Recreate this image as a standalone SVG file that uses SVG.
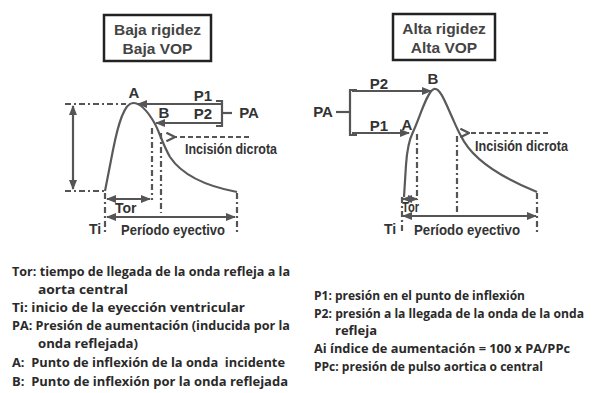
<svg xmlns="http://www.w3.org/2000/svg" width="595" height="393" viewBox="0 0 595 393">
<style>
.bg{fill:#fff}
.box{fill:#fff;stroke:#222;stroke-width:2.5}
.ttl{font-family:"Liberation Sans",Arial,sans-serif;font-weight:bold;font-size:15.5px;fill:#444;text-anchor:middle}
.lbl{font-family:"Liberation Sans",Arial,sans-serif;font-weight:bold;font-size:15px;fill:#333;text-anchor:middle}
.sm{font-family:"Liberation Sans",Arial,sans-serif;font-weight:bold;font-size:14px;fill:#333}
.ln{fill:none;stroke:#555;stroke-width:2.2}
.curve{fill:none;stroke:#5a5a5a;stroke-width:2.2;stroke-linejoin:round}
.dd{fill:none;stroke:#555;stroke-width:2.2;stroke-dasharray:6 3 2 3}
.da{fill:none;stroke:#555;stroke-width:1.8;stroke-dasharray:5 3}
.leg{font-family:"Open Sans","Noto Sans",sans-serif;font-weight:700;font-size:13px;fill:#2a2a2a}
.legs{font-family:"Open Sans","Noto Sans",sans-serif;font-weight:700;font-size:12.5px;fill:#2a2a2a}
</style>
<defs>
<marker id="ah" viewBox="0 0 10 8" refX="9" refY="4" markerWidth="4.6" markerHeight="3.7" orient="auto-start-reverse" markerUnits="strokeWidth">
<path d="M0,0 L10,4 L0,8 Z" fill="#555"/>
</marker>
<marker id="oh" viewBox="0 0 10 10" refX="1" refY="5" markerWidth="6" markerHeight="6" orient="auto-start-reverse" markerUnits="strokeWidth">
<path d="M9,1 L1,5 L9,9" fill="none" stroke="#555" stroke-width="2"/>
</marker>
</defs>
<rect class="bg" x="0" y="0" width="595" height="393"/>

<g id="titulo-baja">
<rect class="box" x="104" y="15" width="107" height="46"/>
<text class="ttl" x="157.5" y="35">Baja rigidez</text>
<text class="ttl" x="157.5" y="54">Baja VOP</text>
</g>
<g id="titulo-alta">
<rect class="box" x="393" y="14" width="102" height="46"/>
<text class="ttl" x="444" y="34">Alta rigidez</text>
<text class="ttl" x="444" y="53">Alta VOP</text>
</g>

<g id="onda-baja">
<path class="curve" d="M105,191 L113,150 C118,125 124,103 133,103 C142,103 150,115 155,124 C159,131 163,145 170,157 C180,172 200,185 237,192"/>
<text class="lbl" x="134" y="98">A</text>
<text class="lbl" x="164" y="118">B</text>
<text class="lbl" x="203" y="101">P1</text>
<text class="lbl" x="203" y="119">P2</text>
<text class="lbl" x="249" y="118">PA</text>
<text class="sm" x="115" y="213">Tor</text>
<text class="sm" x="89" y="234">Ti</text>
<text class="sm" x="121" y="235" textLength="104" lengthAdjust="spacingAndGlyphs">Período eyectivo</text>
<text class="sm" x="185" y="154" textLength="92" lengthAdjust="spacingAndGlyphs">Incisión dicrota</text>
</g>

<g id="onda-alta">
<path class="curve" d="M404,197 L406,165 C407,150 409,140 413,132 C419,120 427,91 434,89 C440,87 446,104 452,117 C456,126 458,131 461,136 C470,155 495,175 537,192"/>
<text class="lbl" x="433" y="84">B</text>
<text class="lbl" x="407" y="130">A</text>
<text class="lbl" x="379" y="89">P2</text>
<text class="lbl" x="379" y="131">P1</text>
<text class="lbl" x="323" y="117">PA</text>
<text class="sm" x="402" y="212" textLength="17" lengthAdjust="spacingAndGlyphs">Tor</text>
<text class="sm" x="384" y="234">Ti</text>
<text class="sm" x="414" y="235" textLength="106" lengthAdjust="spacingAndGlyphs">Período eyectivo</text>
<text class="sm" x="475" y="151" textLength="93" lengthAdjust="spacingAndGlyphs">Incisión dicrota</text>
</g>

<g id="conectores">
<path class="dd" d="M65,104 L126,104"/>
<path class="dd" d="M65,191 L105,191"/>
<path class="ln" d="M73,106 L73,189" marker-start="url(#ah)" marker-end="url(#ah)"/>
<path class="ln" d="M222,104 L138,104" marker-end="url(#ah)"/>
<path class="ln" d="M222,123 L156,123" marker-end="url(#ah)"/>
<path class="ln" d="M216,101 L222,101 L222,126 L216,126"/>
<path class="ln" d="M222,113 L232,113"/>
<path class="dd" d="M152,128 L152,200"/>
<path class="dd" d="M161,133 L161,213"/>
<path class="dd" d="M105,193 L105,234"/>
<path class="dd" d="M237,193 L237,234"/>
<path class="ln" d="M107,199 L150,199" marker-start="url(#ah)" marker-end="url(#ah)"/>
<path class="ln" d="M107,217 L235,217" marker-start="url(#ah)" marker-end="url(#ah)"/>
<path class="da" d="M249,137 L175,137" marker-end="url(#oh)"/>
<path class="ln" d="M336,112 L350,112"/>
<path class="ln" d="M357,90 L350,90 L350,135 L357,135"/>
<path class="ln" d="M352,91 L431,91" marker-end="url(#ah)"/>
<path class="ln" d="M352,133 L409,133" marker-end="url(#ah)"/>
<path class="dd" d="M417,134 L417,200"/>
<path class="dd" d="M457,136 L457,212"/>
<path class="dd" d="M402,197 L402,234"/>
<path class="dd" d="M537,193 L537,234"/>
<path class="ln" d="M403,199 L417,199" marker-start="url(#ah)" marker-end="url(#ah)"/>
<path class="ln" d="M403,216 L536,216" marker-start="url(#ah)" marker-end="url(#ah)"/>
<path class="da" d="M548,133 L469,133" marker-end="url(#oh)"/>
</g>

<g id="leyenda">
<text class="leg" x="12" y="276" textLength="278" lengthAdjust="spacingAndGlyphs">Tor: tiempo de llegada de la onda refleja a la</text>
<text class="leg" x="38" y="294" textLength="90" lengthAdjust="spacingAndGlyphs">aorta central</text>
<text class="leg" x="12" y="312" textLength="233" lengthAdjust="spacingAndGlyphs">Ti: inicio de la eyección ventricular</text>
<text class="leg" x="12" y="330" textLength="278" lengthAdjust="spacingAndGlyphs">PA: Presión de aumentación (inducida por la</text>
<text class="leg" x="38" y="348" textLength="100" lengthAdjust="spacingAndGlyphs">onda reflejada)</text>
<text class="leg" x="12" y="367" textLength="273" lengthAdjust="spacingAndGlyphs" xml:space="preserve">A:  Punto de inflexión de la onda  incidente</text>
<text class="leg" x="12" y="386" textLength="276" lengthAdjust="spacingAndGlyphs" xml:space="preserve">B:  Punto de inflexión por la onda reflejada</text>
<text class="leg" x="314" y="300" textLength="211" lengthAdjust="spacingAndGlyphs">P1: presión en el punto de inflexión</text>
<text class="legs" x="314" y="318" textLength="270" lengthAdjust="spacingAndGlyphs">P2: presión a la llegada de la onda de la onda</text>
<text class="leg" x="335" y="335" textLength="42" lengthAdjust="spacingAndGlyphs">refleja</text>
<text class="leg" x="314" y="353" textLength="256" lengthAdjust="spacingAndGlyphs">Ai índice de aumentación = 100 x PA/PPc</text>
<text class="leg" x="314" y="371" textLength="229" lengthAdjust="spacingAndGlyphs">PPc: presión de pulso aortica o central</text>
</g>
</svg>
